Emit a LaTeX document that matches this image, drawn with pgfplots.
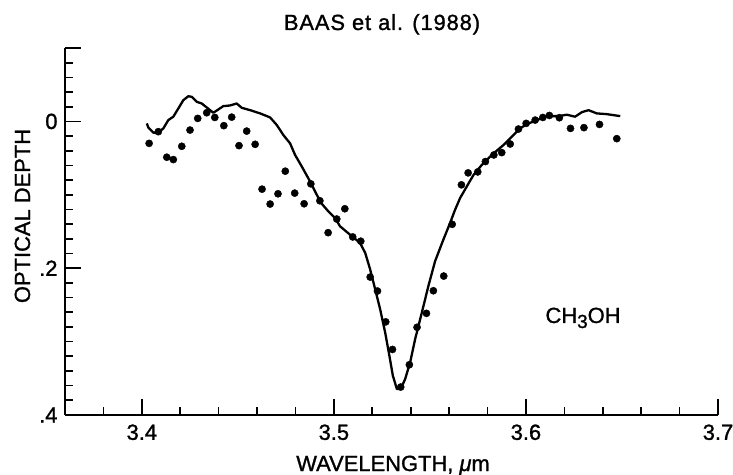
\documentclass[border=0pt]{standalone}
\usepackage{fontspec}
\setmainfont[FakeBold=1.2]{Liberation Sans}
\newfontfamily\titlefont[LetterSpace=4,FakeBold=1.2]{Liberation Sans}
\usepackage{pgfplots}
\pgfplotsset{compat=1.18}
\begin{document}
\fontsize{22}{26}\selectfont
\begin{tikzpicture}
\useasboundingbox (-65bp,-60bp) rectangle (668bp,415bp);
\begin{axis}[
  at={(0,0)}, anchor=south west,
  scale only axis, width=653bp, height=367bp,
  xmin=3.36, xmax=3.7, ymin=-0.1, ymax=0.4, y dir=reverse,
  axis x line=bottom, axis y line=left,
  axis line style={-, line width=1.9bp},
  tick align=inside,
  major tick length=16bp, minor tick length=8bp,
  every tick/.style={line width=1.7bp, black},
  xtick={3.4,3.5,3.6,3.7}, xticklabels={3.4,3.5,3.6,3.7},
  minor xtick={3.38,3.42,3.44,3.46,3.48,3.52,3.54,3.56,3.58,3.62,3.64,3.66,3.68},
  ytick={-0.1,0,0.2,0.4}, yticklabels={,0,.2,.4},
  minor ytick={-0.08,-0.06,-0.04,-0.02,0.02,0.04,0.06,0.08,0.1,0.12,0.14,0.16,0.18,0.22,0.24,0.26,0.28,0.3,0.32,0.34,0.36,0.38},
  /pgf/number format/assume math mode=true,
  ticklabel style={font=\fontsize{22}{26}\selectfont},
  xticklabel style={yshift=-2bp},
  clip=false,
]
\addplot[black, line width=2.3bp, line join=round, mark=none] coordinates {
(3.4026,0.0027) (3.4034,0.0085) (3.4060,0.0153) (3.4086,0.0153) (3.4112,0.0095)
(3.4138,-0.0018) (3.4164,-0.0064) (3.4190,-0.0176) (3.4216,-0.0289) (3.4242,-0.0343)
(3.4260,-0.0335) (3.4286,-0.0267) (3.4312,-0.0244) (3.4338,-0.0190) (3.4372,-0.0118)
(3.4393,-0.0153) (3.4424,-0.0208) (3.4459,-0.0217) (3.4494,-0.0244) (3.4520,-0.0186)
(3.4564,-0.0153) (3.4616,-0.0109) (3.4668,-0.0054) (3.4703,0.0050) (3.4737,0.0186)
(3.4772,0.0299) (3.4798,0.0457) (3.4833,0.0615) (3.4876,0.0818) (3.4911,0.1000)
(3.4937,0.1122) (3.4971,0.1225) (3.5006,0.1316) (3.5032,0.1429) (3.5084,0.1543)
(3.5136,0.1655) (3.5163,0.1791) (3.5189,0.2018) (3.5215,0.2289) (3.5241,0.2560)
(3.5267,0.2877) (3.5289,0.3193) (3.5307,0.3464) (3.5328,0.3646) (3.5348,0.3646)
(3.5371,0.3510) (3.5397,0.3284) (3.5423,0.2967) (3.5458,0.2605) (3.5492,0.2243)
(3.5527,0.1904) (3.5570,0.1611) (3.5605,0.1384) (3.5631,0.1204) (3.5657,0.1045)
(3.5692,0.0886) (3.5727,0.0729) (3.5770,0.0593) (3.5822,0.0457) (3.5883,0.0322)
(3.5935,0.0186) (3.5970,0.0095) (3.6005,0.0037) (3.6057,-0.0018) (3.6109,-0.0072)
(3.6169,-0.0072) (3.6213,-0.0091) (3.6256,-0.0064) (3.6291,-0.0126) (3.6326,-0.0153)
(3.6369,-0.0109) (3.6421,-0.0099) (3.6491,-0.0072)
};
\addplot[black, only marks, mark=*, mark size=3.6bp] coordinates {
(3.4038,0.0299) (3.4086,0.0140) (3.4130,0.0488) (3.4164,0.0520) (3.4208,0.0339)
(3.4251,0.0118) (3.4291,-0.0041) (3.4338,-0.0118) (3.4380,-0.0054) (3.4427,0.0058)
(3.4468,-0.0058) (3.4506,0.0330) (3.4546,0.0132) (3.4590,0.0312) (3.4626,0.0923)
(3.4668,0.1126) (3.4709,0.0986) (3.4747,0.0678) (3.4796,0.0977) (3.4845,0.1122)
(3.4880,0.0851) (3.4927,0.1081) (3.4970,0.1516) (3.5015,0.1330) (3.5057,0.1190)
(3.5098,0.1574) (3.5140,0.1632) (3.5189,0.2121) (3.5227,0.2311) (3.5270,0.2731)
(3.5305,0.3107) (3.5348,0.3619) (3.5393,0.3315) (3.5433,0.2805) (3.5482,0.2615)
(3.5518,0.2307) (3.5572,0.2107) (3.5616,0.1402) (3.5664,0.0864) (3.5699,0.0701)
(3.5749,0.0688) (3.5789,0.0547) (3.5833,0.0457) (3.5874,0.0425) (3.5918,0.0308)
(3.5961,0.0104) (3.6001,0.0027) (3.6048,-0.0018) (3.6088,-0.0054) (3.6122,-0.0081)
(3.6174,-0.0050) (3.6232,0.0095) (3.6302,0.0085) (3.6383,0.0041) (3.6473,0.0235)
};
\end{axis}
\node[anchor=base] at (317bp,385bp) {\titlefont BAAS et al. (1988)};
\node[anchor=base, rotate=90] at (-35bp,199bp) {OPTICAL DEPTH};
\node[anchor=base] at (328bp,-56bp) {WAVELENGTH, {\itshape μ}m};
\node[anchor=base west] at (473bp,92bp) {CH\raisebox{-5bp}{\fontsize{19}{19}\selectfont 3}OH};
\end{tikzpicture}
\end{document}
